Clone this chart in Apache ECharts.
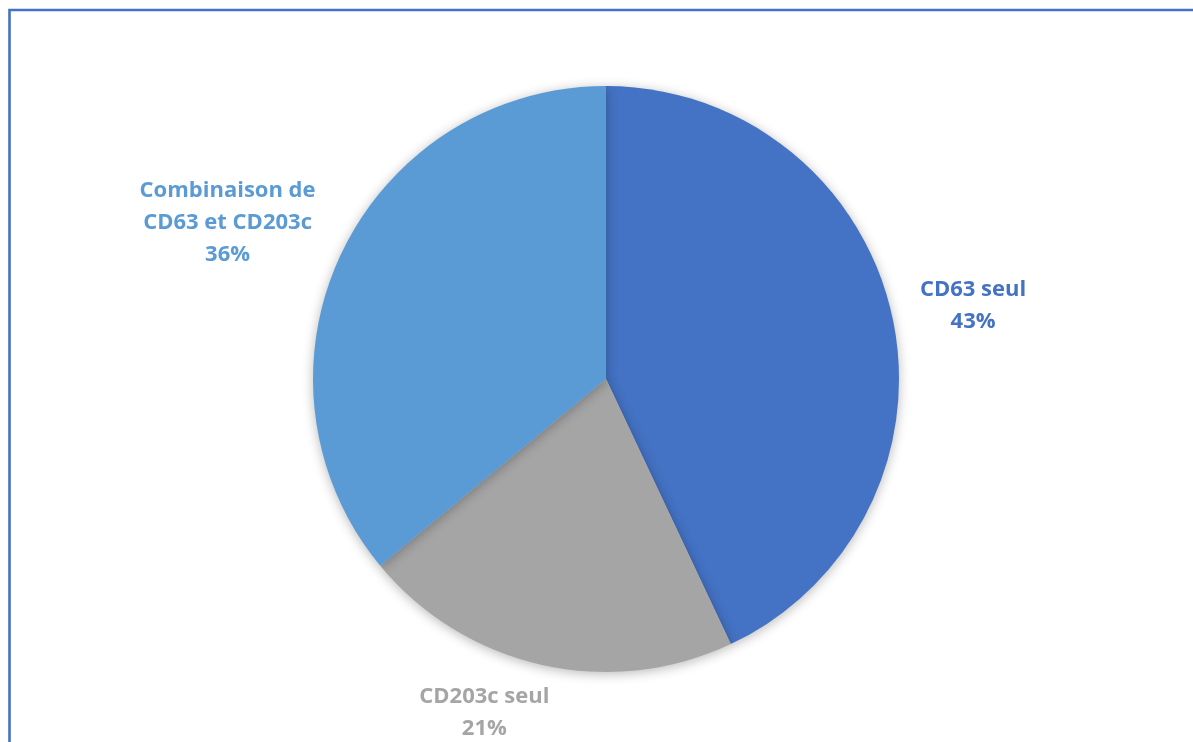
<!DOCTYPE html>
<html>
<head>
<meta charset="utf-8">
<script src="https://cdn.jsdelivr.net/npm/echarts@6/dist/echarts.min.js"></script>
<style>
  html, body { margin: 0; padding: 0; background: #ffffff; }
  #chart { width: 1193px; height: 742px; }
</style>
</head>
<body>
<div id="chart"></div>
<script>
// ---- Data ----
const categories = ['CD63 seul', 'CD203c seul', 'Combinaison de\nCD63 et CD203c'];
const values = [43, 21, 36];
const colors = ['#4472C4', '#A5A5A5', '#5B9BD5'];

// ---- Layout (not data) ----
const CENTER = [606, 379];
const RADIUS = 293;
// label distance from centre and small offsets per slice (Excel "best fit")
const labelDist = [372, 356, 405];
const labelShift = [[4, 8], [-44, -14], [-12, 16]];

const chart = echarts.init(document.getElementById('chart'), null, { renderer: 'canvas' });

const total = values.reduce((a, b) => a + b, 0);
function midAngle(i) {
  let cum = 0;
  for (let k = 0; k < i; k++) cum += values[k];
  return ((cum + values[i] / 2) / total) * 2 * Math.PI;
}

chart.setOption({
  animation: false,
  backgroundColor: '#ffffff',
  graphic: [{
    type: 'rect',
    shape: { x: 9.5, y: 10, width: 1400, height: 1000 },
    style: { fill: 'none', stroke: '#4472C4', lineWidth: 2.6 },
    silent: true
  }],
  series: [{
    type: 'pie',
    center: CENTER,
    radius: RADIUS,
    startAngle: 90,
    clockwise: true,
    data: categories.map((c, i) => ({
      name: c,
      value: values[i],
      itemStyle: { color: colors[i] },
      label: { color: colors[i] }
    })),
    itemStyle: {
      borderWidth: 0,
      shadowBlur: 12,
      shadowColor: 'rgba(0,0,0,0.28)',
      shadowOffsetY: 2
    },
    label: {
      show: true,
      position: 'outside',
      formatter: (p) => p.name + '\n' + Math.round(p.percent) + '%',
      fontFamily: 'Open Sans',
      fontWeight: 'bold',
      fontSize: 22,
      lineHeight: 32,
      align: 'center'
    },
    labelLine: { show: false },
    labelLayout: function (params) {
      const i = params.dataIndex;
      const a = midAngle(i);
      const x = CENTER[0] + labelDist[i] * Math.sin(a) + labelShift[i][0];
      const y = CENTER[1] - labelDist[i] * Math.cos(a) + labelShift[i][1];
      return { x: x, y: y, align: 'center', verticalAlign: 'middle' };
    }
  }]
});
</script>
</body>
</html>
